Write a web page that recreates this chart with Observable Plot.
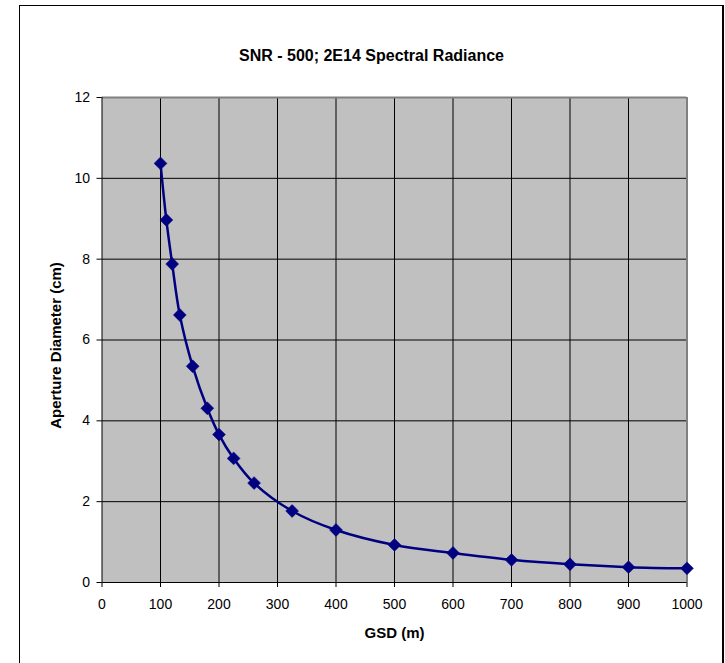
<!DOCTYPE html>
<html>
<head>
<meta charset="utf-8">
<script src="https://cdn.jsdelivr.net/npm/d3@7"></script>
<script src="https://cdn.jsdelivr.net/npm/@observablehq/plot@0.6"></script>
<style>
  html, body { margin: 0; padding: 0; background: #fff; overflow: hidden; }
  #wrap { position: relative; width: 725px; height: 663px; }
  #border { position: absolute; left: 19px; top: 5px; width: 702px; height: 720px;
            border-left: 1px solid #000; border-top: 1.5px solid #000; border-right: 2px solid #000; }
  #chart { position: absolute; left: 0; top: 0; }
  svg { font-family: "Liberation Sans", Arial, sans-serif; }
</style>
</head>
<body>
<div id="wrap"><div id="border"></div><div id="chart"></div></div>
<script>
const title = "SNR - 500; 2E14 Spectral Radiance";
const xLabel = "GSD (m)";
const yLabel = "Aperture Diameter (cm)";
const gsd = [100, 110, 120, 133, 155, 180, 200, 225, 260, 325, 400, 500, 600, 700, 800, 900, 1000];
const diameter = [10.37, 8.97, 7.88, 6.62, 5.35, 4.31, 3.66, 3.07, 2.46, 1.77, 1.30, 0.93, 0.73, 0.56, 0.45, 0.38, 0.35];
const xTicks = [0, 100, 200, 300, 400, 500, 600, 700, 800, 900, 1000];
const yTicks = [0, 2, 4, 6, 8, 10, 12];

const data = gsd.map((g, i) => ({gsd: g, d: diameter[i]}));
const xInner = xTicks.slice(1, -1);
const yInner = yTicks.slice(1, -1);

const chart = Plot.plot({
  width: 725,
  height: 663,
  marginLeft: 101.5,
  marginRight: 38.5,
  marginTop: 97,
  marginBottom: 81,
  style: {fontFamily: "'Liberation Sans', Arial, sans-serif", fontSize: "14px", color: "#000", background: "transparent"},
  x: {domain: [0, 1000]},
  y: {domain: [0, 12]},
  marks: [
    Plot.frame({fill: "#c0c0c0", stroke: null}),
    Plot.gridX(xInner, {stroke: "#000", strokeOpacity: 1, strokeWidth: 1}),
    Plot.gridY(yInner, {stroke: "#000", strokeOpacity: 1, strokeWidth: 1}),
    Plot.ruleY([12], {stroke: "#808080", strokeWidth: 2}),
    Plot.ruleX([1000], {stroke: "#808080", strokeWidth: 2}),
    Plot.ruleX([0], {stroke: "#000", strokeWidth: 1}),
    Plot.ruleY([0], {stroke: "#000", strokeWidth: 1}),
    Plot.axisX({ticks: xTicks, tickFormat: d => String(d), tickSize: 5, tickPadding: 11.5, label: null, fontSize: 14, stroke: "#000"}),
    Plot.axisY({ticks: yTicks, tickFormat: d => String(d), tickSize: 5, tickPadding: 7, label: null, fontSize: 14, stroke: "#000"}),
    Plot.line(data, {x: "gsd", y: "d", stroke: "#000080", strokeWidth: 2.5, curve: "catmull-rom"}),
    Plot.dot(data, {x: "gsd", y: "d", symbol: "diamond2", r: 5.8, fill: "#000080", stroke: "#000080", strokeWidth: 0.5}),
    Plot.text([title], {frameAnchor: "top", textAnchor: "middle", lineAnchor: "middle", dx: -23, dy: -41.6, fontSize: 16, fontWeight: "bold", fill: "#000"}),
    Plot.text([xLabel], {frameAnchor: "bottom", textAnchor: "middle", lineAnchor: "middle", dy: 51, fontSize: 15, fontWeight: "bold", fill: "#000"}),
    Plot.text([yLabel], {frameAnchor: "left", textAnchor: "middle", lineAnchor: "middle", dx: -46.2, dy: 5.5, rotate: -90, fontSize: 15, fontWeight: "bold", fill: "#000"})
  ]
});
document.getElementById("chart").appendChild(chart);
</script>
</body>
</html>
